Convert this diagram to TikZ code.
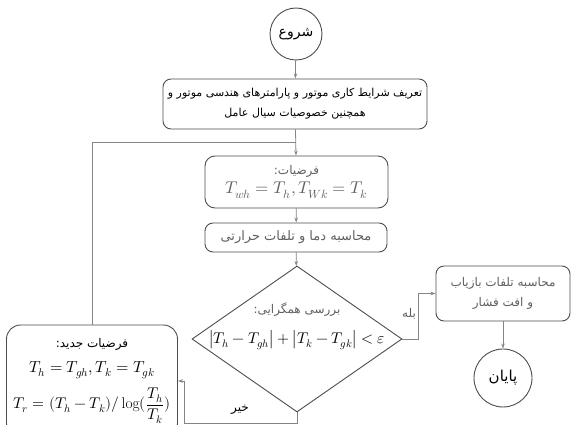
\documentclass[tikz,border=0pt]{standalone}
\usepackage{amsmath}
\usepackage{fontspec}
\usepackage{unicode-math}
\setmathfont{Latin Modern Math}
\usetikzlibrary{shapes.geometric,positioning,arrows.meta}
\newfontfamily\persian[Script=Arabic]{DejaVu Sans}
\TeXXeTstate=1
\newcommand{\fa}[1]{{\persian\beginR #1\endR}}
\definecolor{boxline}{HTML}{4D4D4D}
\definecolor{linegray}{HTML}{858585}
\definecolor{softtext}{HTML}{606060}

\begin{document}
\begin{tikzpicture}[
  x=1pt,y=1pt,
  >={Stealth[length=5pt,width=3.5pt]},
  proc/.style={draw=boxline,line width=0.9pt,rounded corners=8pt,align=center,
    inner sep=2pt,font=\fontsize{12}{20}\selectfont},
  term/.style={circle,draw=boxline,line width=0.9pt,minimum size=52pt,inner sep=0pt,
    font=\fontsize{14}{16}\selectfont},
  flow/.style={->,draw=linegray,line width=0.8pt},
  link/.style={draw=linegray,line width=0.8pt}
]
  \useasboundingbox (0,0) rectangle (574,-425);

  % main column
  \node[term] (start) at (296,-34) {\fa{شروع}};
  \node[proc,minimum width=264pt,minimum height=50pt,font=\fontsize{11}{20}\selectfont]
    (setup) at (295,-104)
    {\fa{تعریف شرایط کاری موتور و پارامترهای هندسی موتور و}\\
     \fa{همچنین خصوصیات سیال عامل}};
  \node[proc,minimum width=183pt,minimum height=52pt,rounded corners=10pt,
    text=softtext] (assume) at (296.5,-182)
    {\fa{فرضیات:}\\[-1pt]{\fontsize{17}{19}\selectfont$T_{wh}=T_h,T_{Wk}=T_k$}};
  \node[proc,minimum width=182pt,minimum height=29pt,text=softtext,
    font=\fontsize{13}{15}\selectfont] (heat)
    at (296,-237.5) {\fa{محاسبه دما و تلفات حرارتی}};
  \node[diamond,draw=boxline,line width=0.9pt,minimum width=210pt,
    minimum height=146pt,inner sep=0pt] (check) at (297,-339) {};
  \node[align=center,font=\fontsize{12}{20}\selectfont] (checktext) at (297,-326)
    {\textcolor{softtext}{\fa{بررسی همگرایی:}}\\[10pt]
     {\fontsize{15.5}{19}\selectfont$\left|T_h-T_{gh}\right|+\left|T_k-T_{gk}\right|<\varepsilon$}};

  % right branch
  \node[proc,minimum width=134pt,minimum height=55pt,text=softtext] (valve)
    at (503,-293.5) {\fa{محاسبه تلفات بازیاب}\\\fa{و افت فشار}};
  \node[term,minimum size=58pt,font=\fontsize{15}{17}\selectfont] (finish)
    at (503,-378) {\fa{پایان}};

  % left branch
  \node[proc,minimum width=171pt,minimum height=112pt,rounded corners=14pt]
    (newassume) at (92,-381)
    {\fa{فرضیات جدید:}\\[5pt]
     {\fontsize{16}{19}\selectfont$T_h=T_{gh},T_k=T_{gk}$}\\[8pt]
     {\fontsize{15.5}{19}\selectfont$T_r=(T_h-T_k)/\log(\dfrac{T_h}{T_k})$}};

  \coordinate (join) at (296,-142);
  \coordinate (yesbend) at (418,-339);
  \coordinate (nobend) at (184,-423);

  \draw[flow] (start) -- (setup);
  \draw[flow] (setup) -- (assume);
  \draw[link] (newassume.north) |- (join);
  \draw[flow] (assume) -- (heat);
  \draw[flow] (heat) -- (check);
  \draw[flow] (check.east) -- (yesbend) |- (valve.west);
  \draw[flow] (valve) -- (finish);
  \draw[flow] (check.south) |- (nobend) |- (newassume.east);

  \node[font=\fontsize{12}{14}\selectfont,text=softtext] (yes) at (409,-314) {\fa{بله}};
  \node[font=\fontsize{12}{14}\selectfont] (no) at (240,-410) {\fa{خیر}};
\end{tikzpicture}
\end{document}
